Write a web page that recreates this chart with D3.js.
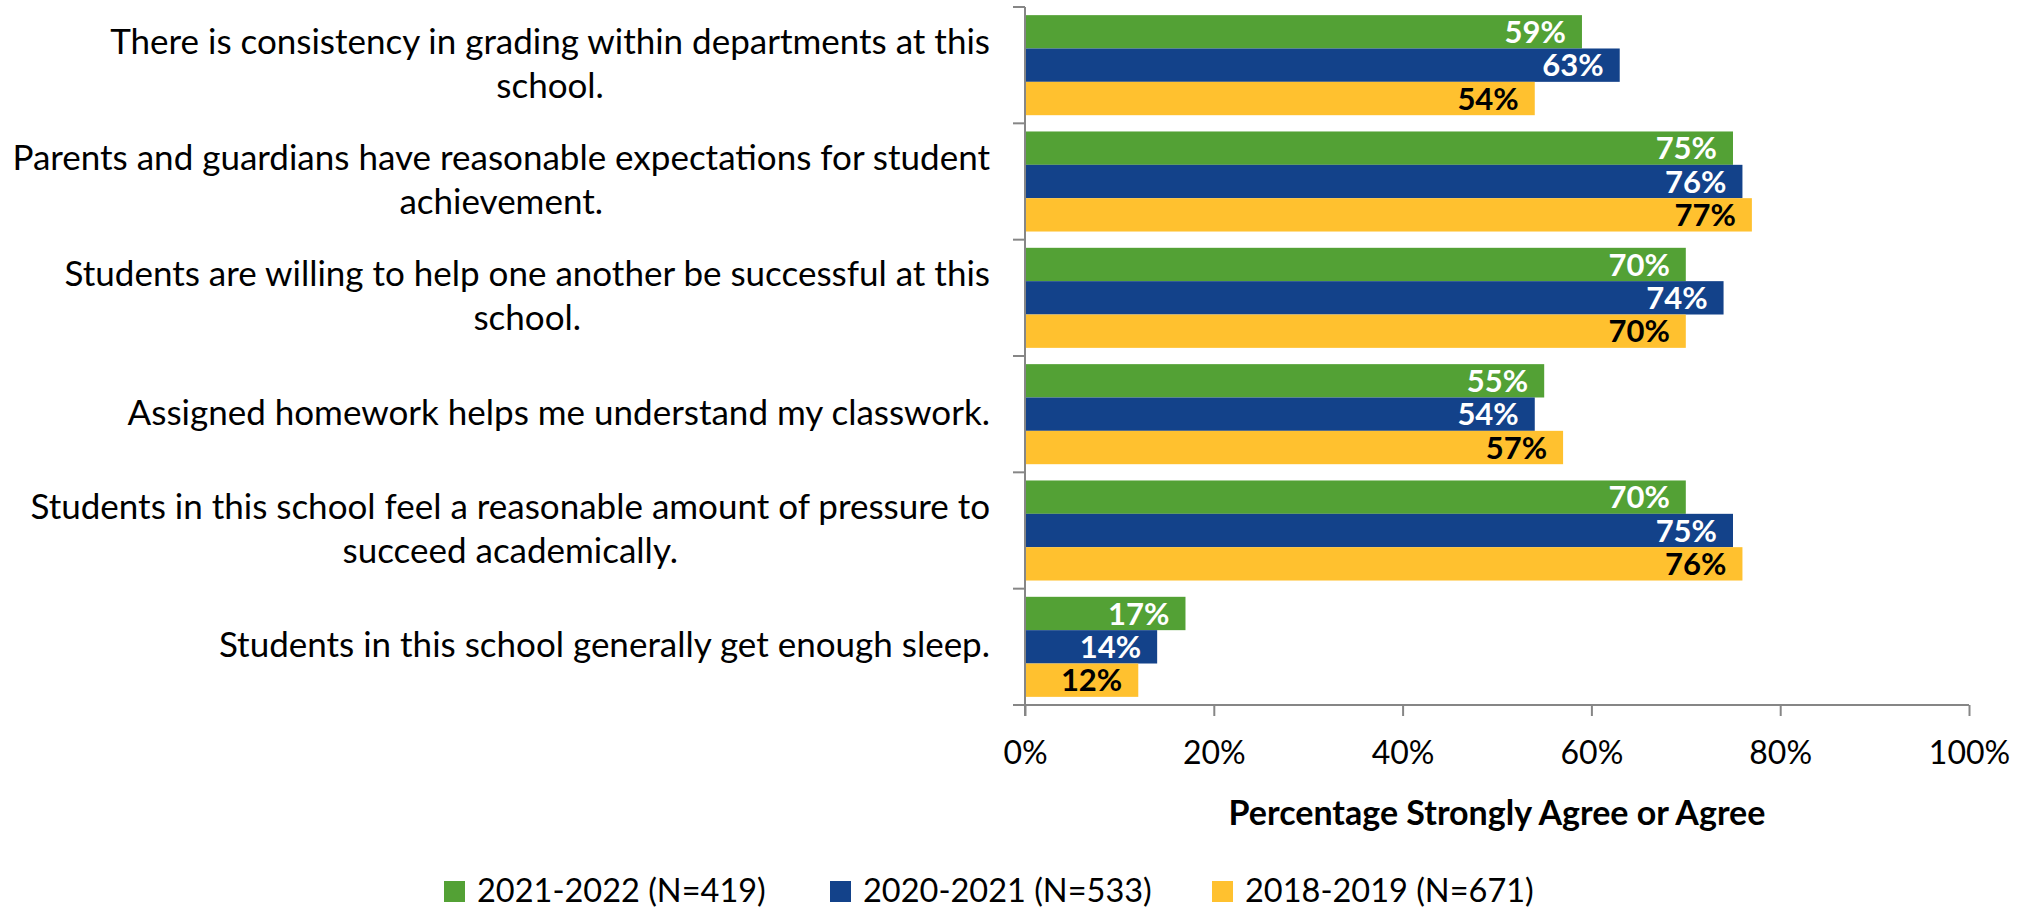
<!DOCTYPE html>
<html>
<head>
<meta charset="utf-8">
<script src="https://cdn.jsdelivr.net/npm/d3@7"></script>
<style>
  html, body { margin: 0; padding: 0; background: #ffffff; }
  svg { display: block; }
  text { font-family: Lato, "Open Sans", sans-serif; }
</style>
</head>
<body>
<svg id="chart" width="2028" height="910"></svg>
<script>
// ---- data ----
const categories = [
  ["There is consistency in grading within departments at this", "school."],
  ["Parents and guardians have reasonable expectations for student", "achievement."],
  ["Students are willing to help one another be successful at this", "school."],
  ["Assigned homework helps me understand my classwork."],
  ["Students in this school feel a reasonable amount of pressure to", "succeed academically."],
  ["Students in this school generally get enough sleep."]
];
const seriesNames = ["2021-2022 (N=419)", "2020-2021 (N=533)", "2018-2019 (N=671)"];
const values2122 = [59, 75, 70, 55, 70, 17];
const values2021 = [63, 76, 74, 54, 75, 14];
const values1819 = [54, 77, 70, 57, 76, 12];
const xTicks = [0, 20, 40, 60, 80, 100];
const xTitle = "Percentage Strongly Agree or Agree";
const colors = ["#53A135", "#13428A", "#FFC12F"];
const labelColors = ["#ffffff", "#ffffff", "#000000"];

const seriesValues = [values2122, values2021, values1819];

(function () {
// ---- layout ----
const svg = d3.select("#chart");
const pLeft = 1025, pRight = 1969, pTop = 7, pBottom = 705;
const FS_LABEL = 31, FS_CAT = 35, FS_TICK = 32, FS_TITLE = 34, FS_LEG = 32.5;
const axisColor = "#868686";

const x = d3.scaleLinear().domain([0, 100]).range([pLeft, pRight]);
const y = d3.scaleBand().domain(d3.range(categories.length)).range([pTop, pBottom]).padding(0);
const inner = d3.scaleBand().domain(d3.range(seriesNames.length))
  .range([y.bandwidth() * 0.07, y.bandwidth() * 0.93]).padding(0);

// bars
const groups = svg.append("g").selectAll("g")
  .data(categories.map((c, i) => i))
  .join("g")
  .attr("transform", i => `translate(0,${y(i)})`);

groups.each(function(ci) {
  const g = d3.select(this);
  seriesValues.forEach((vals, si) => {
    const v = vals[ci];
    g.append("rect")
      .attr("x", x(0))
      .attr("y", inner(si))
      .attr("width", x(v) - x(0))
      .attr("height", inner.bandwidth())
      .attr("fill", colors[si]);
    g.append("text")
      .attr("x", x(v) - 16)
      .attr("y", inner(si) + inner.bandwidth() / 2)
      .attr("dy", "0.36em")
      .attr("text-anchor", "end")
      .attr("font-size", FS_LABEL)
      .attr("font-weight", "bold")
      .attr("fill", labelColors[si])
      .text(v + "%");
  });
});

// y axis line and ticks
const yAxis = svg.append("g");
yAxis.append("line")
  .attr("x1", pLeft).attr("x2", pLeft)
  .attr("y1", pTop).attr("y2", pBottom + 11)
  .attr("stroke", axisColor).attr("stroke-width", 2);
const yTickPos = d3.range(categories.length + 1).map(i => i < categories.length ? y(i) : pBottom);
yAxis.selectAll("line.tick").data(yTickPos).join("line")
  .attr("class", "tick")
  .attr("x1", pLeft - 12).attr("x2", pLeft)
  .attr("y1", d => d).attr("y2", d => d)
  .attr("stroke", axisColor).attr("stroke-width", 2);

// x axis via d3
const xAxis = d3.axisBottom(x).tickValues(xTicks).tickFormat(d => d + "%").tickSize(11).tickPadding(25);
const xg = svg.append("g").attr("transform", `translate(0,${pBottom})`).call(xAxis);
xg.select(".domain").attr("stroke", axisColor).attr("stroke-width", 2)
  .attr("d", `M${pLeft - 12},0H${pRight}`);
xg.selectAll(".tick line").attr("stroke", axisColor).attr("stroke-width", 2);
xg.selectAll(".tick text").attr("font-size", FS_TICK).attr("fill", "#000")
  .attr("font-family", "Lato, 'Open Sans', sans-serif").attr("dy", "0.71em");

// x title
svg.append("text")
  .attr("x", 1497)
  .attr("y", 825)
  .attr("text-anchor", "middle")
  .attr("font-size", FS_TITLE)
  .attr("font-weight", "bold")
  .attr("fill", "#000")
  .text(xTitle);

// category labels
const labelRight = 990;
const lineH = 44;
categories.forEach((lines, i) => {
  const cy = y(i) + y.bandwidth() / 2 - 2;
  const g = svg.append("g");
  const texts = lines.map((ln, k) => g.append("text")
    .attr("font-size", FS_CAT)
    .attr("fill", "#000")
    .attr("text-anchor", "middle")
    .attr("y", cy + (k - (lines.length - 1) / 2) * lineH)
    .attr("dy", "0.36em")
    .text(ln));
  const maxW = d3.max(texts, t => t.node().getComputedTextLength());
  texts.forEach(t => t.attr("x", labelRight - maxW / 2));
});

// legend
const legendX = [444, 830, 1212];
const legend = svg.append("g");
seriesNames.forEach((name, i) => {
  legend.append("rect")
    .attr("x", legendX[i]).attr("y", 881)
    .attr("width", 21).attr("height", 21)
    .attr("fill", colors[i]);
  legend.append("text")
    .attr("x", legendX[i] + 33).attr("y", 902)
    .attr("font-size", FS_LEG)
    .attr("fill", "#000")
    .text(name);
});
})();
</script>
</body>
</html>
